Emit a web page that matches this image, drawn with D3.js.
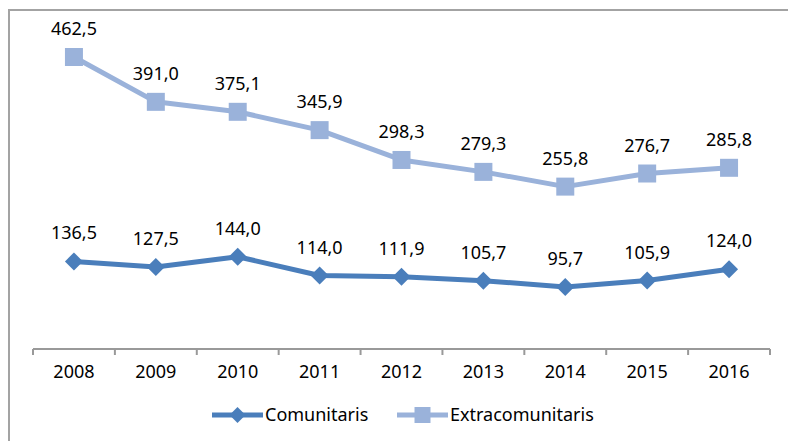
<!DOCTYPE html>
<html>
<head>
<meta charset="utf-8">
<script src="https://cdn.jsdelivr.net/npm/d3@7/dist/d3.min.js"></script>
<style>
  html, body { margin: 0; padding: 0; background: #fff; }
  svg { display: block; font-family: "Noto Sans", "Open Sans", sans-serif; }
</style>
</head>
<body>
<svg id="chart" width="788" height="441"></svg>
<script>
// Dades
var years = ['2008', '2009', '2010', '2011', '2012', '2013', '2014', '2015', '2016'];
var comunitaris = [136.5, 127.5, 144.0, 114.0, 111.9, 105.7, 95.7, 105.9, 124.0];
var extracomunitaris = [462.5, 391.0, 375.1, 345.9, 298.3, 279.3, 255.8, 276.7, 285.8];

var COLORS = { com: '#4a7ebb', ext: '#9ab2da' };

var svg = d3.select('#chart');
var W = 788, H = 441;

// marc exterior
svg.append('rect')
  .attr('x', 9).attr('y', 10)
  .attr('width', W).attr('height', H)
  .attr('fill', 'none').attr('stroke', '#a3a3a3').attr('stroke-width', 2);

var x = d3.scaleBand().domain(years).range([33, 770]);
var y = d3.scaleLinear().domain([0, 500]).range([347, 33.5]);
var fmt = function (v) { return d3.format('.1f')(v).replace('.', ','); };
var cx = function (d, i) { return x(years[i]) + x.bandwidth() / 2; };

// eix X
var axisY = 349;
var axis = svg.append('g').attr('transform', 'translate(0,' + axisY + ')');
axis.append('line').attr('x1', 33).attr('x2', 770)
  .attr('stroke', '#999').attr('stroke-width', 2);
axis.selectAll('line.tick')
  .data(d3.range(years.length + 1)).enter().append('line')
  .attr('class', 'tick')
  .attr('x1', function (i) { return 33 + i * x.step(); })
  .attr('x2', function (i) { return 33 + i * x.step(); })
  .attr('y1', 0).attr('y2', 6)
  .attr('stroke', '#999').attr('stroke-width', 2);
axis.selectAll('text').data(years).enter().append('text')
  .attr('x', function (d) { return x(d) + x.bandwidth() / 2; })
  .attr('y', 29)
  .attr('text-anchor', 'middle')
  .attr('font-size', 18)
  .attr('fill', '#000')
  .text(function (d) { return d; });

var line = d3.line().x(cx).y(function (d) { return y(d); });

function series(data, color, shape) {
  var g = svg.append('g');
  g.append('path').datum(data)
    .attr('d', line)
    .attr('fill', 'none').attr('stroke', color)
    .attr('stroke-width', 5).attr('stroke-linejoin', 'round');
  g.selectAll('path.m').data(data).enter().append('path')
    .attr('class', 'm')
    .attr('d', shape === 'square'
      ? d3.symbol().type(d3.symbolSquare).size(18 * 18)
      : 'M0,-9L9,0L0,9L-9,0Z')
    .attr('transform', function (d, i) { return 'translate(' + cx(d, i) + ',' + y(d) + ')'; })
    .attr('fill', color);
  g.selectAll('text').data(data).enter().append('text')
    .attr('x', cx)
    .attr('y', function (d) { return y(d) - 22; })
    .attr('text-anchor', 'middle')
    .attr('font-size', 18)
    .attr('fill', '#000')
    .text(fmt);
}

series(comunitaris, COLORS.com, 'diamond');
series(extracomunitaris, COLORS.ext, 'square');

// llegenda
var legend = [
  { label: 'Comunitaris', color: COLORS.com, shape: 'diamond', x0: 212 },
  { label: 'Extracomunitaris', color: COLORS.ext, shape: 'square', x0: 397 }
];
var ly = 415;
legend.forEach(function (it) {
  var g = svg.append('g');
  g.append('line').attr('x1', it.x0).attr('x2', it.x0 + 51)
    .attr('y1', ly).attr('y2', ly)
    .attr('stroke', it.color).attr('stroke-width', 5);
  g.append('path')
    .attr('d', it.shape === 'square'
      ? d3.symbol().type(d3.symbolSquare).size(16 * 16)
      : 'M0,-8L8,0L0,8L-8,0Z')
    .attr('transform', 'translate(' + (it.x0 + 25.5) + ',' + ly + ')')
    .attr('fill', it.color);
  g.append('text').attr('x', it.x0 + 53).attr('y', ly + 6)
    .attr('font-size', 18).attr('fill', '#000')
    .text(it.label);
});
</script>
</body>
</html>
